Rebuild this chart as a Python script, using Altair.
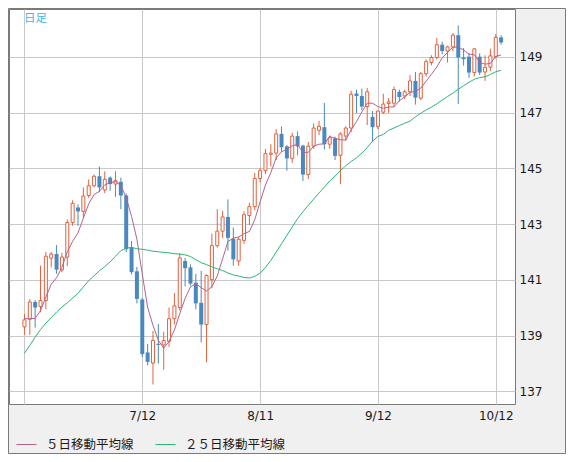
import altair as alt
import pandas as pd

opens = [139.32, 139.59, 140.21, 140.05, 140.26, 141.78, 141.93, 141.36, 141.82, 143.06,
         143.60, 143.46, 144.03, 144.38, 144.72, 144.23, 144.67, 144.44, 144.52, 144.03,
         142.16, 141.31, 140.30, 138.40, 138.02, 138.71, 138.67, 138.80, 139.61, 140.01,
         141.68, 141.45, 140.90, 140.18, 139.40, 141.01, 142.23, 142.75, 143.26, 142.48,
         141.68, 142.42, 143.31, 143.63, 144.64, 144.92, 145.51, 145.55, 146.24, 145.79,
         145.36, 146.16, 145.82, 144.78, 145.80, 146.37, 146.48, 145.87, 146.08, 145.47,
         146.16, 146.45, 147.69, 147.60, 147.22, 146.85, 146.51, 147.02, 147.33, 147.34,
         147.75, 147.60, 147.75, 148.14, 147.52, 148.40, 148.80, 148.98, 149.44, 149.21,
         149.36, 149.78, 148.98, 149.01, 148.44, 149.01, 148.46, 148.63, 149.01, 149.70]

highs = [139.78, 140.32, 140.28, 141.51, 142.00, 142.00, 142.25, 141.97, 143.17, 143.86,
         143.71, 144.32, 144.61, 144.78, 145.07, 144.90, 144.72, 144.90, 144.67, 144.10,
         142.40, 141.47, 140.35, 138.70, 139.17, 139.42, 139.14, 140.01, 140.53, 141.95,
         141.79, 141.56, 141.22, 141.33, 141.20, 142.66, 143.54, 143.48, 143.89, 142.88,
         142.54, 143.46, 143.77, 144.84, 145.01, 145.70, 145.87, 146.41, 146.51, 145.84,
         146.28, 146.33, 145.85, 145.95, 146.62, 146.71, 147.35, 146.18, 146.14, 146.30,
         146.51, 147.79, 147.82, 147.86, 147.89, 147.06, 147.08, 147.68, 147.52, 147.94,
         147.83, 147.83, 148.35, 148.46, 148.46, 148.92, 149.06, 149.68, 149.55, 149.40,
         149.86, 150.13, 149.32, 149.13, 149.32, 149.13, 149.06, 149.30, 149.82, 149.78]

lows = [139.03, 139.03, 139.29, 139.84, 139.95, 141.45, 141.22, 141.28, 141.50, 142.94,
        142.94, 143.23, 143.94, 144.32, 144.15, 144.11, 144.20, 143.98, 143.54, 142.00,
        141.20, 140.16, 138.23, 137.94, 137.25, 138.00, 137.78, 138.60, 139.40, 139.90,
        140.77, 140.80, 139.95, 138.76, 138.05, 140.70, 142.16, 142.50, 142.05, 141.51,
        141.51, 142.30, 142.97, 143.50, 144.50, 144.80, 145.07, 145.30, 145.60, 144.92,
        145.20, 145.47, 144.55, 144.62, 145.70, 146.20, 145.68, 145.70, 145.30, 144.44,
        146.00, 146.30, 146.99, 147.10, 146.56, 145.95, 146.40, 146.95, 146.99, 147.20,
        147.40, 147.48, 147.60, 147.29, 147.45, 148.30, 148.70, 148.90, 149.10, 148.80,
        149.20, 147.31, 148.69, 148.25, 148.30, 148.35, 148.14, 148.50, 148.94, 149.44]

closes = [139.57, 140.21, 140.01, 140.26, 141.85, 141.93, 141.37, 141.82, 143.06, 143.75,
          143.46, 144.01, 144.38, 144.72, 144.32, 144.61, 144.44, 144.56, 144.03, 142.10,
          141.28, 140.32, 138.34, 138.06, 138.83, 138.67, 138.83, 139.61, 140.07, 141.79,
          141.42, 140.87, 140.16, 139.40, 141.16, 142.23, 142.75, 143.26, 142.51, 141.74,
          142.46, 143.34, 143.63, 144.64, 144.92, 145.53, 145.55, 146.24, 145.76, 145.36,
          146.16, 145.79, 144.78, 145.80, 146.45, 146.51, 145.87, 146.10, 145.45, 146.24,
          146.45, 147.66, 147.60, 147.22, 147.75, 146.48, 147.06, 147.31, 147.39, 147.83,
          147.56, 147.75, 148.14, 147.54, 148.40, 148.83, 148.98, 149.44, 149.21, 149.36,
          149.78, 148.98, 148.92, 148.44, 149.29, 148.44, 148.63, 149.04, 149.70, 149.52]

ma5 = [139.61, 139.61, 139.62, 139.90, 140.38, 140.85, 141.08, 141.45, 142.01, 142.39,
       142.69, 143.22, 143.73, 144.06, 144.18, 144.41, 144.49, 144.53, 144.39, 143.95,
       143.28, 142.46, 141.21, 140.02, 139.37, 138.84, 138.55, 138.80, 139.20, 139.79,
       140.34, 140.75, 140.86, 140.73, 140.60, 140.76, 141.14, 141.76, 142.38, 142.50,
       142.54, 142.66, 142.74, 143.16, 143.80, 144.41, 144.85, 145.38, 145.60, 145.69,
       145.81, 145.86, 145.57, 145.58, 145.80, 145.87, 145.88, 146.15, 146.08, 146.03,
       146.02, 146.38, 146.68, 147.03, 147.34, 147.34, 147.22, 147.16, 147.20, 147.21,
       147.43, 147.57, 147.73, 147.76, 147.88, 148.13, 148.38, 148.64, 148.97, 149.16,
       149.35, 149.35, 149.25, 149.10, 149.08, 148.81, 148.74, 148.77, 149.02, 149.07]

ma25 = [138.37, 138.65, 138.95, 139.22, 139.45, 139.65, 139.85, 140.03, 140.18, 140.35,
        140.52, 140.75, 140.97, 141.15, 141.33, 141.48, 141.65, 141.85, 142.05, 142.14,
        142.17, 142.12, 142.10, 142.07, 142.03, 142.01, 141.99, 141.97, 141.94, 141.93,
        141.90, 141.84, 141.73, 141.62, 141.55, 141.47, 141.40, 141.34, 141.25, 141.18,
        141.14, 141.09, 141.07, 141.13, 141.24, 141.45, 141.70, 142.00, 142.30, 142.60,
        142.90, 143.20, 143.45, 143.68, 143.90, 144.12, 144.33, 144.55, 144.73, 144.92,
        145.10, 145.25, 145.38, 145.55, 145.75, 145.98, 146.15, 146.22, 146.37, 146.45,
        146.54, 146.62, 146.70, 146.85, 146.98, 147.10, 147.20, 147.32, 147.45, 147.58,
        147.70, 147.84, 147.97, 148.09, 148.20, 148.26, 148.29, 148.37, 148.47, 148.52]

x_tick_idx = [0, 22, 44, 66, 88]
x_tick_labels = ["", "7/12", "8/11", "9/12", "10/12"]
y_ticks = [137, 139, 141, 143, 145, 147, 149]
series_names = ["５日移動平均線", "２５日移動平均線"]
series_colors = ["#b3628f", "#2bb673"]

UP = "#e0623f"
DOWN = "#4a89bf"
FRAME = "#7a7a76"
W, H = 506, 395

idx = list(range(len(closes)))
df = pd.DataFrame({"i": idx, "open": opens, "high": highs, "low": lows, "close": closes})
ma_df = pd.concat([
    pd.DataFrame({"i": idx, "v": ma5, "s": series_names[0]}),
    pd.DataFrame({"i": idx, "v": ma25, "s": series_names[1]}),
])

label_map = " : ".join(
    [f"datum.value == {v} ? '{t}'" for v, t in zip(x_tick_idx, x_tick_labels)]
) + " : ''"

xscale = alt.Scale(domain=[-1.95, 90.66], nice=False, zero=False)
yscale = alt.Scale(domain=[136.55, 150.72], nice=False, zero=False)
xaxis = alt.Axis(values=x_tick_idx, labelExpr=label_map, grid=True, ticks=False,
                 domain=False, title=None, labelFont="DejaVu Sans", labelFontSize=12,
                 labelColor="#1a1a1a", labelPadding=6, labelFlush=False, labelOverlap=False)
yaxis = alt.Axis(values=y_ticks, orient="right", grid=True, ticks=False, domain=False,
                 title=None, labelFont="DejaVu Sans", labelFontSize=12,
                 labelColor="#1a1a1a", labelPadding=4)

X = alt.X("i:Q", scale=xscale, axis=xaxis)

base = alt.Chart(df).transform_calculate(up="datum.close >= datum.open")

wick_up = base.transform_filter("datum.up").mark_rule(color=UP, strokeWidth=1).encode(
    x=X, y=alt.Y("low:Q", scale=yscale, axis=yaxis), y2="high:Q")
wick_dn = base.transform_filter("!datum.up").mark_rule(color=DOWN, strokeWidth=1).encode(
    x=X, y=alt.Y("low:Q", scale=yscale, axis=yaxis), y2="high:Q")
body_up = base.transform_filter("datum.up").mark_bar(
    size=3, fill="white", stroke=UP, strokeWidth=1).encode(
    x=X, y=alt.Y("open:Q", scale=yscale, axis=yaxis), y2="close:Q")
body_dn = base.transform_filter("!datum.up").mark_bar(
    size=4, color=DOWN).encode(
    x=X, y=alt.Y("open:Q", scale=yscale, axis=yaxis), y2="close:Q")

lines = alt.Chart(ma_df).mark_line(strokeWidth=1).encode(
    x=X,
    y=alt.Y("v:Q", scale=yscale, axis=yaxis),
    color=alt.Color("s:N", scale=alt.Scale(domain=series_names, range=series_colors),
                    sort=series_names,
                    legend=alt.Legend(orient="none", legendX=7, legendY=H + 30,
                                      direction="horizontal", title=None,
                                      symbolType="stroke", symbolSize=400,
                                      symbolStrokeWidth=1, labelOffset=9,
                                      labelFont="Noto Sans CJK JP", labelFontSize=12.5,
                                      labelColor="#1a1a1a", columnPadding=19)),
    order="i:Q",
)

tag = alt.Chart(pd.DataFrame({"t": ["日足"]})).mark_text(
    align="left", baseline="middle", font="Noto Sans CJK JP", fontSize=11.5,
    color="#40b6ea").encode(x=alt.value(15), y=alt.value(10), text="t:N")

outer = alt.Chart(pd.DataFrame({"t": [0]})).mark_rect(
    filled=False, stroke=FRAME, strokeWidth=1).encode(
    x=alt.value(-0.5), x2=alt.value(W + 50.5), y=alt.value(-0.5), y2=alt.value(H + 49.5))

chart = alt.layer(wick_up, wick_dn, body_up, body_dn, lines, tag, outer).properties(
    width=W, height=H,
    background="#f0f0f0",
    autosize=alt.AutoSizeParams(type="none"),
    padding={"left": 1, "top": 1, "right": 51, "bottom": 50},
).configure_view(
    stroke=FRAME, strokeWidth=1, fill="white"
).configure_axis(gridColor="#c8c8c8", gridWidth=1)

chart.save("out.html", embed_options={"renderer": "svg", "actions": False})
